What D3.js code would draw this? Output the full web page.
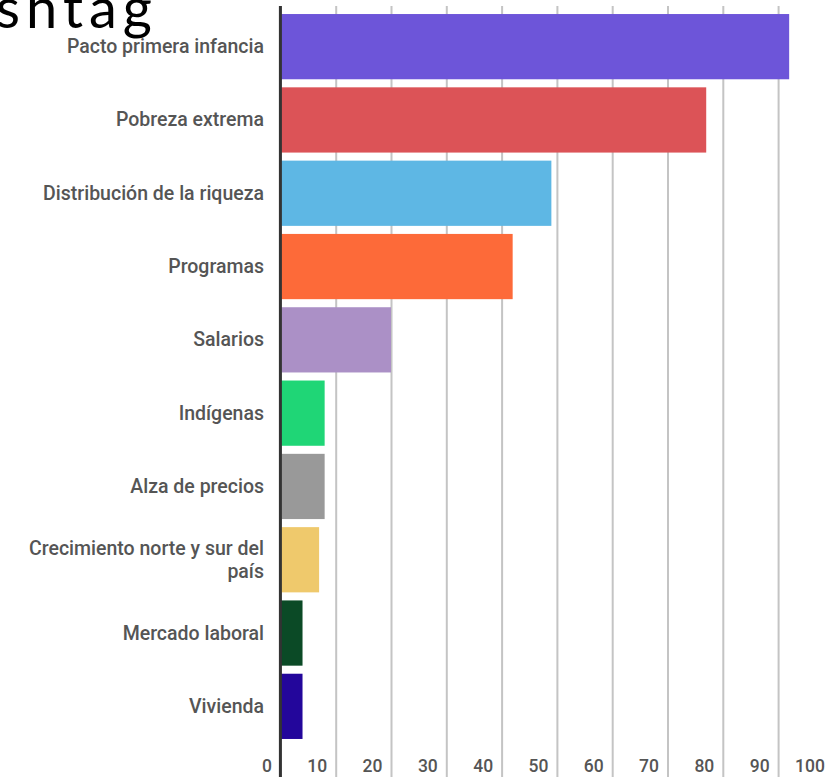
<!DOCTYPE html>
<html>
<head>
<meta charset="utf-8">
<script src="https://cdn.jsdelivr.net/npm/d3@7"></script>
<style>
  body { margin: 0; background: #fff; }
  svg { display: block; }
</style>
</head>
<body>
<div id="chart"></div>
<script>
const w = 826,
    h = 777;

// data
const categories = ["Pacto primera infancia", "Pobreza extrema", "Distribución de la riqueza", "Programas",
    "Salarios", "Indígenas", "Alza de precios", "Crecimiento norte y sur del país", "Mercado laboral", "Vivienda"];
const values = [92, 77, 49, 42, 20, 8, 8, 7, 4, 4];
const colors = ["#6d55d9", "#dc5357", "#5eb7e4", "#fd6a39", "#ab90c6", "#1fd676", "#999999", "#efc96c", "#0b4a26", "#23069b"];
const tickValues = [0, 10, 20, 30, 40, 50, 60, 70, 80, 90, 100];

const data = categories.map(function (c, i) {
    return { name: c, value: values[i], color: colors[i] };
});

const svg = d3.select("#chart")
    .append("svg")
    .attr("width", w)
    .attr("height", h);

// cut-off title at the top left
svg.append("text")
    .attr("x", 158)
    .attr("y", 28)
    .attr("text-anchor", "end")
    .style("font-family", "Lato")
    .style("font-size", "56px")
    .style("letter-spacing", "6px")
    .style("fill", "#000")
    .text("Hashtag");

const xScale = d3.scaleLinear()
    .domain([0, 100])
    .range([280.4, 833.4]);

const yScale = d3.scaleBand()
    .domain(categories)
    .range([10, 743])
    .paddingInner(0.11)
    .paddingOuter(0.055);

const topY = 6;

// grid + tick labels
const xAxis = d3.axisBottom(xScale)
    .tickValues(tickValues)
    .tickSize(-(h - topY))
    .tickFormat(d3.format("d"));

const gx = svg.append("g")
    .attr("transform", "translate(0," + h + ")")
    .call(xAxis);

gx.select(".domain").remove();
gx.selectAll(".tick line")
    .attr("stroke", "#c4c4c4")
    .attr("stroke-width", 2);
gx.selectAll(".tick text")
    .attr("x", -9)
    .attr("y", -5)
    .attr("dy", null)
    .attr("text-anchor", "end")
    .style("font-family", "Roboto")
    .style("font-weight", 500)
    .style("font-size", "17.5px")
    .style("fill", "#555");

// bars
svg.selectAll("rect.bar")
    .data(data)
    .enter()
    .append("rect")
    .attr("class", "bar")
    .attr("x", xScale(0))
    .attr("y", function (d) { return yScale(d.name) })
    .attr("width", function (d) { return xScale(d.value) - xScale(0) })
    .attr("height", yScale.bandwidth())
    .style("fill", function (d) { return d.color });

// zero axis
svg.append("line")
    .attr("x1", xScale(0))
    .attr("x2", xScale(0))
    .attr("y1", topY)
    .attr("y2", h)
    .attr("stroke", "#333")
    .attr("stroke-width", 3);

// category labels
const labels = svg.selectAll("text.cat")
    .data(data)
    .enter()
    .append("text")
    .attr("class", "cat")
    .attr("text-anchor", "end")
    .style("font-family", "Roboto")
    .style("font-weight", 500)
    .style("font-size", "19.5px")
    .style("fill", "#555");

labels.each(function (d) {
    const t = d3.select(this);
    const cx = 264;
    const mid = yScale(d.name) + yScale.bandwidth() / 2;
    // simple word wrap at ~250px
    const words = d.name.split(" ");
    let lines = [], line = [];
    const probe = t.append("tspan");
    words.forEach(function (wd) {
        line.push(wd);
        probe.text(line.join(" "));
        if (probe.node().getComputedTextLength() > 250 && line.length > 1) {
            line.pop();
            lines.push(line.join(" "));
            line = [wd];
        }
    });
    lines.push(line.join(" "));
    probe.remove();
    const lh = 23.3;
    const first = mid + 6.5 - (lines.length - 1) * lh / 2;
    lines.forEach(function (l, i) {
        t.append("tspan")
            .attr("x", cx)
            .attr("y", first + i * lh)
            .text(l);
    });
});
</script>
</body>
</html>
